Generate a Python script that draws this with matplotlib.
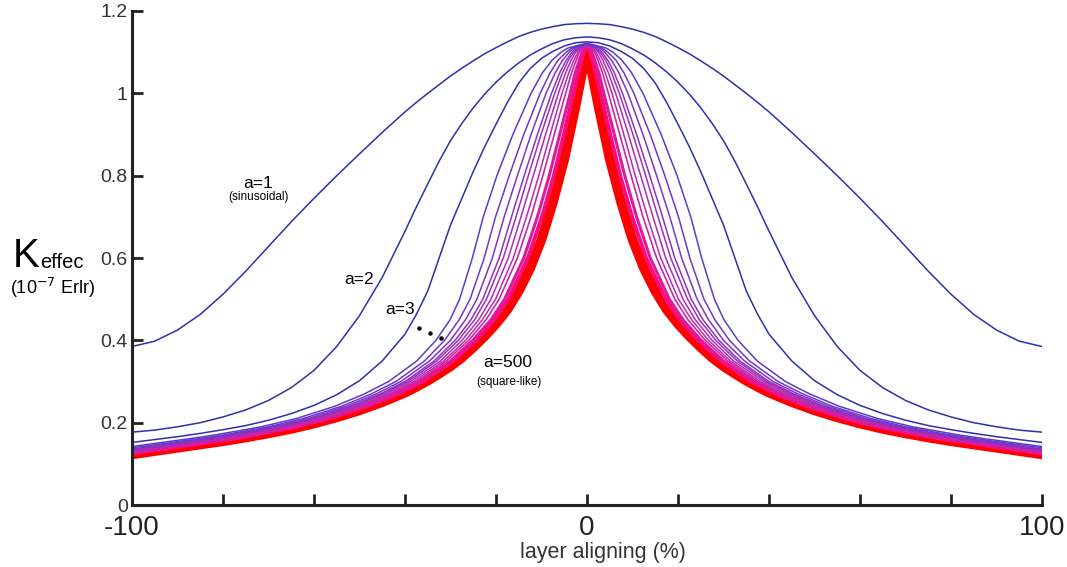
import matplotlib
matplotlib.use("Agg")
import matplotlib.pyplot as plt

# half profile grid, layer aligning (%) from the centre outwards (curves are symmetric)
half_x = [0, 2.5, 5, 7.5, 10, 12.5, 15, 17.5, 20, 22.5, 25, 27.5, 30, 32.5, 35, 37.5,
          40, 45, 50, 55, 60, 65, 70, 75, 80, 85, 90, 95, 100]

# k_effec (10^-7 Erlr)
a1 = [1.170, 1.169, 1.167, 1.162, 1.156, 1.148, 1.138, 1.125, 1.111, 1.096, 1.079, 1.061, 1.042, 1.021, 1.0, 0.978,
      0.955, 0.905, 0.853, 0.80, 0.745, 0.688, 0.628, 0.568, 0.512, 0.463, 0.425, 0.398, 0.385]
a2 = [1.137, 1.135, 1.13, 1.121, 1.108, 1.093, 1.074, 1.052, 1.027, 0.998, 0.965, 0.927, 0.885, 0.835, 0.78, 0.724,
      0.665, 0.553, 0.46, 0.385, 0.327, 0.285, 0.254, 0.231, 0.214, 0.2, 0.19, 0.182, 0.177]
a3 = [1.125, 1.123, 1.115, 1.102, 1.085, 1.06, 1.025, 0.978, 0.925, 0.87, 0.81, 0.745, 0.68, 0.60, 0.52, 0.463,
      0.415, 0.35, 0.302, 0.268, 0.242, 0.222, 0.206, 0.193, 0.183, 0.174, 0.166, 0.159, 0.152]
a500 = [1.11, 0.97, 0.84, 0.735, 0.645, 0.575, 0.52, 0.475, 0.44, 0.41, 0.383, 0.358, 0.337, 0.319, 0.302, 0.287,
        0.273, 0.25, 0.23, 0.213, 0.198, 0.185, 0.174, 0.164, 0.155, 0.147, 0.139, 0.131, 0.123]

# intermediate a values: half width (%) where each curve crosses these levels
levels = [1.11, 1.10, 1.08, 1.05, 1.0, 0.9, 0.8, 0.7, 0.6, 0.5, 0.45, 0.4, 0.35, 0.3, 0.27, 0.24, 0.21,
          0.19, 0.17, 0.16]
mid_widths = [
    [4.2, 5.7, 7.7, 9.8, 12.3, 16.3, 19.8, 22.8, 25.2, 28.0, 30.1, 33.2, 37.4, 43.6, 48.9, 55.4, 63.9, 71.6, 81.9, 88.1],
    [3.3, 4.6, 6.4, 8.1, 10.3, 13.9, 17.1, 20.1, 22.6, 25.7, 28.1, 31.3, 35.7, 42.0, 47.4, 53.9, 62.4, 70.0, 80.0, 86.1],
    [2.8, 3.9, 5.4, 7.0, 9.0, 12.3, 15.3, 18.2, 20.8, 24.2, 26.7, 30.0, 34.6, 40.9, 46.3, 52.9, 61.3, 68.9, 78.7, 84.6],
    [2.3, 3.3, 4.6, 6.0, 7.8, 10.9, 13.8, 16.6, 19.3, 22.9, 25.5, 29.0, 33.6, 40.0, 45.4, 52.0, 60.5, 67.9, 77.7, 83.4],
    [1.9, 2.9, 4.1, 5.4, 7.1, 10.1, 12.9, 15.6, 18.4, 22.1, 24.7, 28.3, 33.0, 39.4, 44.8, 51.5, 59.9, 67.3, 77.0, 82.7],
    [1.6, 2.5, 3.5, 4.7, 6.3, 9.1, 11.8, 14.5, 17.3, 21.1, 23.8, 27.5, 32.2, 38.8, 44.2, 50.8, 59.3, 66.7, 76.2, 81.8],
    [1.2, 2.0, 2.9, 4.0, 5.5, 8.1, 10.6, 13.3, 16.2, 20.1, 23.0, 26.7, 31.5, 38.1, 43.5, 50.2, 58.7, 66.0, 75.4, 80.9],
    [1.0, 1.7, 2.4, 3.4, 4.7, 7.2, 9.7, 12.3, 15.3, 19.3, 22.2, 26.0, 30.9, 37.5, 42.9, 49.6, 58.1, 65.4, 74.7, 80.2],
    [0.5, 1.1, 1.7, 2.6, 3.7, 6.0, 8.3, 10.9, 13.9, 18.1, 21.1, 25.1, 30.0, 36.7, 42.1, 48.9, 57.3, 64.5, 73.7, 79.1],
    [0.3, 0.7, 1.2, 1.9, 3.0, 5.1, 7.3, 9.9, 13.0, 17.3, 20.4, 24.4, 29.4, 36.1, 41.5, 48.3, 56.8, 63.9, 73.0, 78.3],
]
mid_peaks = [1.122, 1.121, 1.12, 1.119, 1.118, 1.117, 1.116, 1.115, 1.113, 1.112]
mid_ends = [0.142, 0.139, 0.136, 0.134, 0.133, 0.131, 0.130, 0.129, 0.127, 0.125]
mid_colors = ["#5b3ccc", "#6e38c8", "#8034c4", "#9030c0", "#a02ebc",
              "#ae2cb6", "#bc2aae", "#c828a6", "#e0189a", "#f80c80"]
mid_lw = [1.1, 1.1, 1.1, 1.1, 1.1, 1.1, 1.1, 1.2, 2.2, 2.8]

x_ticks = [-100, -80, -60, -40, -20, 0, 20, 40, 60, 80, 100]
x_labels = ["-100", "", "", "", "", "0", "", "", "", "", "100"]
y_ticks = [0, 0.2, 0.4, 0.6, 0.8, 1.0, 1.2]
y_labels = ["0", "0.2", "0.4", "0.6", "0.8", "1", "1.2"]

plt.rcParams["font.family"] = ["Liberation Sans", "DejaVu Sans"]

fig = plt.figure(figsize=(10.67, 5.67), dpi=100)
ax = fig.add_axes([0.1237, 0.1093, 0.8529, 0.8713])

xs = [-v for v in half_x[::-1]] + half_x[1:]


def full(vals):
    return vals[::-1] + vals[1:]


for y in [a1, a2, a3]:
    ax.plot(xs, full(y), color="#2f30ac", lw=1.1, solid_joinstyle="round")

ax.plot(xs, full(a500), color="#ff0000", lw=7, solid_joinstyle="round")

# pinks first (they hug the red band), then the purple fan
for i in range(len(mid_widths))[::-1]:
    w = mid_widths[i]
    cx = [-100] + [-v for v in w[::-1]] + [0] + w + [100]
    cy = [mid_ends[i]] + levels[::-1] + [mid_peaks[i]] + levels + [mid_ends[i]]
    ax.plot(cx, cy, color=mid_colors[i], lw=mid_lw[i], solid_joinstyle="round")

ax.set_xlim(-100, 100)
ax.set_ylim(0, 1.2)
for s in ["top", "right"]:
    ax.spines[s].set_visible(False)
for s in ["left", "bottom"]:
    ax.spines[s].set_linewidth(2.2)
    ax.spines[s].set_color("#222222")

ax.set_xticks(x_ticks)
ax.set_xticklabels(x_labels, fontsize=20, color="#222222")
ax.set_yticks(y_ticks)
ax.set_yticklabels(y_labels, fontsize=14, color="#333333")
ax.tick_params(axis="x", direction="in", length=8, width=2, color="#222222", pad=7)
ax.tick_params(axis="y", direction="in", length=8, width=2, color="#222222", pad=3)
ax.set_xlabel("layer aligning (%)", fontsize=15.5, color="#333333")
ax.xaxis.set_label_coords(0.518, -0.075)

# y axis label
fig.text(0.012, 0.529, "K", fontsize=29, ha="left", va="baseline")
fig.text(0.0375, 0.527, "effec", fontsize=14.5, ha="left", va="baseline")
fig.text(0.009, 0.481, r"(10$^{-7}$ Erlr)", fontsize=13, ha="left", va="baseline")

# curve annotations
ax.text(-72.3, 0.782, "a=1", fontsize=12.5, ha="center", va="center")
ax.text(-72.3, 0.749, "(sinusoidal)", fontsize=8.5, ha="center", va="center")
ax.text(-50.1, 0.547, "a=2", fontsize=12.5, ha="center", va="center")
ax.text(-41.1, 0.474, "a=3", fontsize=12.5, ha="center", va="center")
ax.plot([-36.9, -34.5, -32.1], [0.430, 0.418, 0.406], "o", color="black", ms=2.2)
ax.text(-17.4, 0.345, "a=500", fontsize=12.5, ha="center", va="center")
ax.text(-17.1, 0.299, "(square-like)", fontsize=8.5, ha="center", va="center")

fig.savefig("out.png", dpi=100)
